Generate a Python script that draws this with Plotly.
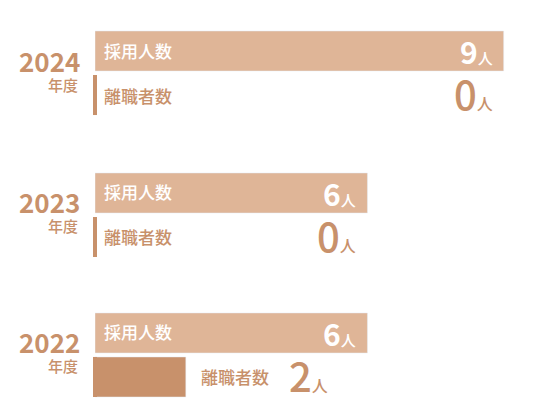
import plotly.graph_objects as go
from plotly.subplots import make_subplots

years = ["2024", "2023", "2022"]
hires = [9, 6, 6]
leavers = [0, 0, 2]
row_labels = ["採用人数", "離職者数"]
unit = "人"
year_suffix = "年度"

hire_color = "#dfb597"
leave_color = "#c8916b"
font = "Noto Sans CJK JP"

fig = make_subplots(rows=3, cols=1, shared_xaxes=True)

# each year gets its own little panel, positioned by hand to match the spacing
# (page body has an 8px margin, so the figure is 532x408)
domains = [[0.7328, 0.9485], [0.3848, 0.6005], [0.0417, 0.2574]]

for i, year in enumerate(years):
    r = i + 1
    yname = "y" if r == 1 else f"y{r}"

    fig.add_trace(go.Bar(x=[hires[i], leavers[i]], y=row_labels, orientation="h",
                         marker_color=[hire_color, leave_color], hoverinfo="skip"),
                  row=r, col=1)
    # thin stub at zero so an empty bar still shows (line-ns is drawn 1.4x size)
    fig.add_trace(go.Scatter(x=[0], y=[row_labels[1]], mode="markers", cliponaxis=False,
                             marker=dict(symbol="line-ns", size=28.6,
                                         line=dict(width=4, color=leave_color)),
                             hoverinfo="skip"),
                  row=r, col=1)

    # hires: label at start, value at end of bar
    fig.add_annotation(x=0, y=row_labels[0], xanchor="left", xshift=7, yshift=1,
                       showarrow=False, text=row_labels[0],
                       font=dict(family=font, size=17, color="white", weight=500),
                       row=r, col=1)
    fig.add_annotation(x=hires[i], y=row_labels[0], xanchor="right", xshift=-9, showarrow=False,
                       text=f"<span style='font-size:30px'><b>{hires[i]}</b></span>"
                            f"<span style='font-size:15px'>{unit}</span>",
                       font=dict(family=font, size=15, color="white", weight=500),
                       row=r, col=1)

    # leavers
    val_text = (f"<span style='font-size:40px'>{leavers[i]}</span>"
                f"<span style='font-size:16px'>{unit}</span>")
    if leavers[i] > 0:
        fig.add_annotation(x=leavers[i], y=row_labels[1], xanchor="left", xshift=13,
                           showarrow=False, text=row_labels[1],
                           font=dict(family=font, size=17, color=leave_color, weight=500),
                           row=r, col=1)
        fig.add_annotation(x=leavers[i], y=row_labels[1], xanchor="left", xshift=101,
                           yshift=2, showarrow=False, text=val_text,
                           font=dict(family=font, size=16, color=leave_color, weight=500),
                           row=r, col=1)
    else:
        fig.add_annotation(x=0, y=row_labels[1], xanchor="left", xshift=7,
                           showarrow=False, text=row_labels[1],
                           font=dict(family=font, size=17, color=leave_color, weight=500),
                           row=r, col=1)
        fig.add_annotation(x=hires[i], y=row_labels[1], xanchor="right", xshift=-9,
                           yshift=2, showarrow=False, text=val_text,
                           font=dict(family=font, size=16, color=leave_color, weight=500),
                           row=r, col=1)

    # year label on the left
    fig.add_annotation(xref="paper", yref=f"{yname} domain", x=-0.03, y=0.5,
                       xanchor="right", yanchor="middle", yshift=13, showarrow=False,
                       text=f"<b>{year}</b>",
                       font=dict(family=font, size=26, color=leave_color))
    fig.add_annotation(xref="paper", yref=f"{yname} domain", x=-0.033, y=0.5,
                       xanchor="right", yanchor="middle", yshift=-11, showarrow=False,
                       text=year_suffix,
                       font=dict(family=font, size=15, color=leave_color, weight=500))

    fig.update_yaxes(domain=domains[i], range=[1.5, -0.5], categoryorder="array",
                     categoryarray=row_labels, row=r, col=1)

fig.update_xaxes(range=[0, 9.8], showgrid=False, zeroline=False, showticklabels=False,
                 fixedrange=True)
fig.update_yaxes(showgrid=False, zeroline=False, showticklabels=False, fixedrange=True)

fig.update_layout(width=532, height=408, margin=dict(l=87, r=0, t=0, b=0),
                  bargap=0.09, showlegend=False,
                  plot_bgcolor="white", paper_bgcolor="white")

fig.write_html("out.html")
